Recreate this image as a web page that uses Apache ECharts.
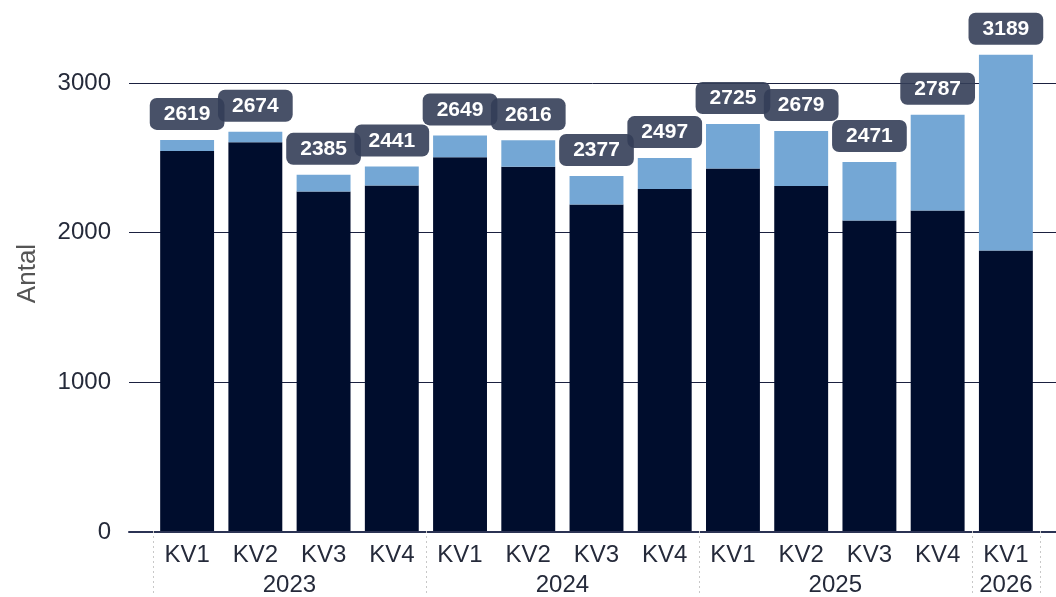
<!DOCTYPE html>
<html>
<head>
<meta charset="utf-8">
<script src="https://cdn.jsdelivr.net/npm/echarts@6/dist/echarts.min.js"></script>
<style>
  html, body { margin: 0; padding: 0; background: #fff; }
  #chart { width: 1056px; height: 597px; }
</style>
</head>
<body>
<div id="chart"></div>
<script>
// kvartal och år
var quarters = ['KV1', 'KV2', 'KV3', 'KV4', 'KV1', 'KV2', 'KV3', 'KV4', 'KV1', 'KV2', 'KV3', 'KV4', 'KV1'];
var years = ['2023', '2024', '2025', '2026'];
var yearSizes = [4, 4, 4, 1];
// totalt antal per kvartal
var totals = [2619, 2674, 2385, 2441, 2649, 2616, 2377, 2497, 2725, 2679, 2471, 2787, 3189];
// mörk del (nedre) av staplarna
var darkValues = [2545, 2603, 2273, 2313, 2503, 2440, 2186, 2291, 2427, 2311, 2080, 2146, 1879];
var yTicks = [0, 1000, 2000, 3000];

var font = 'Liberation Sans, Arial, sans-serif';
var lightValues = totals.map(function(t, i) { return t - darkValues[i]; });

// årsaxel: halva kategoristeg, etiketter i mitten av varje år, streck vid gränserna
var halfSteps = quarters.length * 2 + 1;
var yearData = [];
var yearLabelAt = {};
var yearTickAt = {};
var pos = 0;
yearTickAt[0] = true;
for (var k = 0; k < years.length; k++) {
  yearLabelAt[pos + yearSizes[k]] = years[k];
  pos += yearSizes[k] * 2;
  yearTickAt[pos] = true;
}
for (var h = 0; h < halfSteps; h++) {
  yearData.push(yearLabelAt[h] || '');
}

var myChart = echarts.init(document.getElementById('chart'));
var option = {
  animation: false,
  textStyle: { fontFamily: font },
  grid: [
    { left: 129, right: 0, top: 83, bottom: 65 },
    { left: 153, right: 16, top: 83, bottom: 65 }
  ],
  xAxis: [
    {
      gridIndex: 0, type: 'category', data: [''],
      axisLine: { show: true, lineStyle: { color: '#2b3354', width: 2 } },
      axisTick: { show: false }, axisLabel: { show: false }
    },
    {
      gridIndex: 1, type: 'category', data: quarters,
      axisLine: { show: false }, axisTick: { show: false },
      axisLabel: { color: '#252a3a', fontSize: 24, margin: 12, fontFamily: font }
    },
    {
      gridIndex: 1, type: 'category', data: yearData, boundaryGap: false,
      position: 'bottom',
      axisLine: { show: false },
      axisTick: {
        show: true, length: 65,
        interval: function(i) { return !!yearTickAt[i]; },
        lineStyle: { color: '#c8c8c8', type: [2, 3], width: 1 }
      },
      axisLabel: {
        color: '#252a3a', fontSize: 24, margin: 42, fontFamily: font,
        interval: function(i) { return !!yearLabelAt[i]; }
      }
    }
  ],
  yAxis: [
    {
      gridIndex: 0, type: 'value', min: yTicks[0], max: yTicks[yTicks.length - 1], interval: 1000,
      name: 'Antal', nameLocation: 'middle', nameGap: 88, nameRotate: 90,
      nameTextStyle: { fontSize: 26, color: '#555555', fontFamily: font, padding: [0, 0, 0, 68] },
      axisLine: { show: false }, axisTick: { show: false },
      axisLabel: {
        color: '#252a3a', fontSize: 24, margin: 18, fontFamily: font,
        formatter: function(v) { return String(v); }
      },
      splitLine: { lineStyle: { color: '#1b2140', width: 1 } }
    },
    {
      gridIndex: 1, type: 'value', min: yTicks[0], max: yTicks[yTicks.length - 1], interval: 1000,
      show: false, splitLine: { show: false }
    }
  ],
  series: [
    {
      name: 'mörk', type: 'bar', stack: 'total', xAxisIndex: 1, yAxisIndex: 1,
      barCategoryGap: '21%', clip: false,
      itemStyle: { color: '#000d2d' },
      data: darkValues
    },
    {
      name: 'ljus', type: 'bar', stack: 'total', xAxisIndex: 1, yAxisIndex: 1,
      barCategoryGap: '21%', clip: false,
      itemStyle: { color: '#74a7d5' },
      label: {
        show: true, position: 'top', distance: 10,
        formatter: function(p) { return totals[p.dataIndex]; },
        color: '#ffffff', fontSize: 21, fontWeight: 'bold', fontFamily: font,
        backgroundColor: 'rgba(52,62,88,0.9)', borderRadius: 7,
        padding: [6, 14, 5, 14]
      },
      data: lightValues
    }
  ]
};
myChart.setOption(option);
</script>
</body>
</html>
